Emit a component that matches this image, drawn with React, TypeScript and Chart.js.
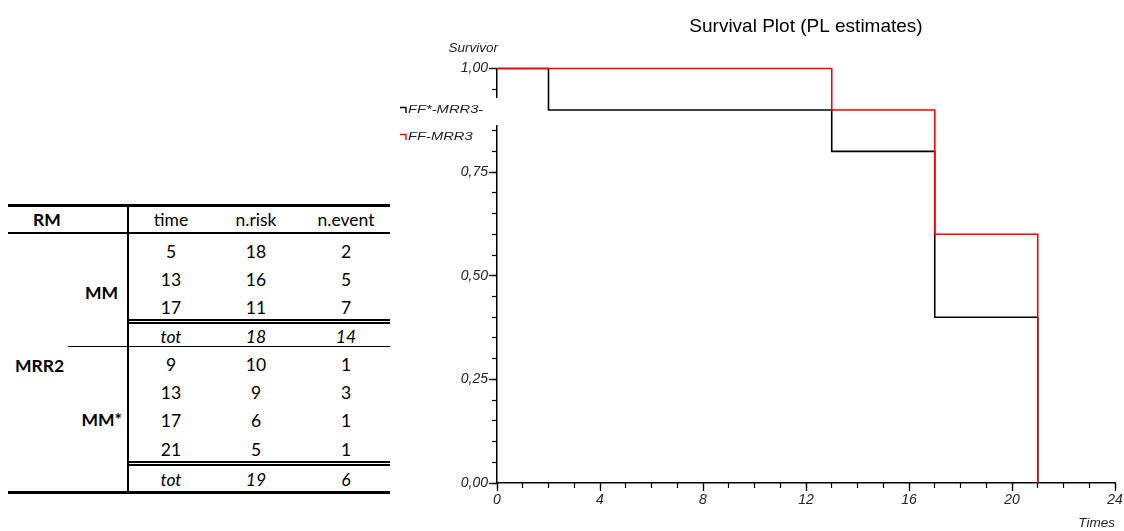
import React, { useEffect, useRef } from "react";
import { Chart, registerables } from "chart.js";

Chart.register(...registerables);

// ---------- chart data ----------
const seriesNames = ["FF*-MRR3-", "FF-MRR3"];
const seriesColors = ["#000000", "#ff0000"];
const timesBlack = [0, 2, 13, 17, 21];
const survBlack = [1, 0.9, 0.8, 0.4, 0];
const timesRed = [0, 13, 17, 21];
const survRed = [1, 0.9, 0.6, 0];
const xRange = [0, 24];
const xMajorStep = 4;
const xMinorStep = 1;
const yRange = [0, 1];
const yMajorStep = 0.25;
const yMinorStep = 0.05;
const chartTitle = "Survival Plot (PL estimates)";
const yAxisTitle = "Survivor";
const xAxisTitle = "Times";

// ---------- table data ----------
const tableHeader = ["RM", "time", "n.risk", "n.event"];
const outerGroup = "MRR2";
const groupNames = ["MM", "MM*"];
const mmRows = [
  [5, 18, 2],
  [13, 16, 5],
  [17, 11, 7],
];
const mmTot = ["tot", "18", "14"];
const mmStarRows = [
  [9, 10, 1],
  [13, 9, 3],
  [17, 6, 1],
  [21, 5, 1],
];
const mmStarTot = ["tot", "19", "6"];

const CANVAS_LEFT = 380;
const CANVAS_W = 744;
const CANVAS_H = 531;
const SANS = "'Liberation Sans', Arial, sans-serif";
const TABLE_FONT = "Lato, 'Open Sans', sans-serif";

const kmDecor = {
  id: "kmDecor",
  afterDraw(chart: any) {
    const { ctx, chartArea } = chart;
    const L = chartArea.left;
    const T = chartArea.top;
    ctx.save();
    // axis title "Survivor"
    ctx.fillStyle = "#222";
    ctx.font = `italic 13.5px ${SANS}`;
    ctx.textAlign = "right";
    ctx.textBaseline = "middle";
    ctx.fillText(yAxisTitle, L + 1, T - 20);
    // legend background box (hides part of the axis)
    ctx.fillStyle = "#ffffff";
    ctx.fillRect(L - 107, T + 29.5, 110, 27);
    const ys = [T + 41.5, T + 68.5];
    chart.data.datasets.forEach((ds: any, i: number) => {
      const y = ys[i];
      ctx.strokeStyle = ds.borderColor;
      ctx.lineWidth = 1.4;
      ctx.beginPath();
      ctx.moveTo(L - 97, y - 2.5);
      ctx.lineTo(L - 91, y - 2.5);
      ctx.lineTo(L - 91, y + 3);
      ctx.stroke();
      ctx.save();
      ctx.translate(L - 89, y);
      ctx.scale(1.28, 1);
      ctx.fillStyle = "#222";
      ctx.font = `italic 11.5px ${SANS}`;
      ctx.textAlign = "left";
      ctx.textBaseline = "middle";
      ctx.fillText(ds.label, 0, 0);
      ctx.restore();
    });
    ctx.restore();
  },
};

function SurvivalChart() {
  const ref = useRef<HTMLCanvasElement>(null);
  useEffect(() => {
    const canvas = ref.current;
    if (!canvas) return;
    const tickFont = { family: SANS, size: 14, style: "italic" as const };
    const fmtY = (v: any) => Number(v).toFixed(2).replace(".", ",");
    const chart = new Chart(canvas, {
      type: "line",
      data: {
        datasets: [
          {
            label: seriesNames[0],
            data: timesBlack.map((t, i) => ({ x: t, y: survBlack[i] })),
            borderColor: seriesColors[0],
            borderWidth: 1.6,
            stepped: true,
            pointRadius: 0,
            fill: false,
            clip: 4,
            order: 1,
          },
          {
            label: seriesNames[1],
            data: timesRed.map((t, i) => ({ x: t, y: survRed[i] })),
            borderColor: seriesColors[1],
            borderWidth: 1.6,
            stepped: true,
            pointRadius: 0,
            fill: false,
            clip: 4,
            order: 0,
          },
        ],
      },
      options: {
        animation: false,
        responsive: false,
        maintainAspectRatio: false,
        events: [],
        layout: { padding: { left: 0, right: 9, top: 0, bottom: 0 } },
        plugins: {
          legend: { display: false },
          tooltip: { enabled: false },
          title: {
            display: true,
            text: chartTitle,
            fullSize: false,
            color: "#000",
            font: { family: SANS, size: 19, weight: "normal" },
            padding: { top: 15, bottom: 30.7 },
          },
        },
        scales: {
          x: {
            type: "linear",
            position: "bottom",
            weight: 10,
            min: xRange[0],
            max: xRange[1],
            border: { display: true, color: "#000", width: 1.5 },
            grid: { drawOnChartArea: false, drawTicks: true, tickLength: 8, color: "#000", tickWidth: 1.3 },
            ticks: { stepSize: xMajorStep, padding: 1, color: "#222", font: tickFont, maxRotation: 0, autoSkip: false },
            title: { display: true, text: xAxisTitle, align: "end", color: "#222", font: { ...tickFont, size: 13.5 }, padding: 0 },
            afterFit: (s: any) => {
              s.height = 48;
            },
          },
          x2: {
            type: "linear",
            position: "bottom",
            weight: 0,
            min: xRange[0],
            max: xRange[1],
            border: { display: false },
            grid: { drawOnChartArea: false, drawTicks: true, tickLength: 5, color: "#000", tickWidth: 1.2 },
            ticks: { stepSize: xMinorStep, display: false, autoSkip: false },
            afterFit: (s: any) => {
              s.height = 0;
            },
          },
          y: {
            type: "linear",
            position: "left",
            weight: 10,
            min: yRange[0],
            max: yRange[1],
            border: { display: true, color: "#000", width: 1.5 },
            grid: { drawOnChartArea: false, drawTicks: true, tickLength: 8, color: "#000", tickWidth: 1.3 },
            ticks: { stepSize: yMajorStep, padding: 1, color: "#222", font: tickFont, callback: fmtY, autoSkip: false },
            afterFit: (s: any) => {
              s.width = 117;
            },
          },
          y2: {
            type: "linear",
            position: "left",
            weight: 0,
            min: yRange[0],
            max: yRange[1],
            border: { display: false },
            grid: { drawOnChartArea: false, drawTicks: true, tickLength: 5, color: "#000", tickWidth: 1.2 },
            ticks: { stepSize: yMinorStep, display: false, autoSkip: false },
            afterFit: (s: any) => {
              s.width = 0;
            },
          },
        },
      } as any,
      plugins: [kmDecor],
    });
    return () => chart.destroy();
  }, []);
  return (
    <canvas
      ref={ref}
      width={CANVAS_W}
      height={CANVAS_H}
      style={{ position: "absolute", left: CANVAS_LEFT, top: 0, width: CANVAS_W, height: CANVAS_H }}
    />
  );
}

function HLine({ x1, x2, y, h }: { x1: number; x2: number; y: number; h: number }) {
  return <div style={{ position: "absolute", left: x1, top: y, width: x2 - x1, height: h, background: "#000" }} />;
}

function Cell({
  cx,
  cy,
  text,
  bold,
  italic,
  align,
}: {
  cx: number;
  cy: number;
  text: string | number;
  bold?: boolean;
  italic?: boolean;
  align?: "left" | "right" | "center";
}) {
  const w = 120;
  const a = align || "center";
  const left = a === "center" ? cx - w / 2 : a === "right" ? cx - w : cx;
  return (
    <div
      style={{
        position: "absolute",
        left,
        width: w,
        top: cy - 12,
        height: 24,
        lineHeight: "24px",
        textAlign: a,
        fontFamily: TABLE_FONT,
        fontSize: 17.5,
        fontWeight: bold ? 700 : 400,
        fontStyle: italic ? "italic" : "normal",
        color: "#000",
        whiteSpace: "nowrap",
      }}
    >
      {text}
    </div>
  );
}

function RiskTable() {
  const colX = [47, 171, 256, 346];
  const pitch = 28.2;
  const g1y = mmRows.map((_, i) => 252 + pitch * i);
  const g2y = mmStarRows.map((_, i) => 365 + pitch * i);
  const els: any[] = [];
  tableHeader.forEach((h, i) =>
    els.push(<Cell key={"h" + i} cx={colX[i]} cy={220} text={h} bold={i === 0} />)
  );
  mmRows.forEach((r, ri) =>
    r.forEach((v, ci) => els.push(<Cell key={`a${ri}-${ci}`} cx={colX[ci + 1]} cy={g1y[ri]} text={v} />))
  );
  mmTot.forEach((v, ci) => els.push(<Cell key={`at${ci}`} cx={colX[ci + 1]} cy={337} text={v} italic />));
  mmStarRows.forEach((r, ri) =>
    r.forEach((v, ci) => els.push(<Cell key={`b${ri}-${ci}`} cx={colX[ci + 1]} cy={g2y[ri]} text={v} />))
  );
  mmStarTot.forEach((v, ci) => els.push(<Cell key={`bt${ci}`} cx={colX[ci + 1]} cy={480} text={v} italic />));
  return (
    <>
      <HLine x1={8} x2={390} y={203.5} h={3} />
      <HLine x1={8} x2={390} y={231.5} h={2.5} />
      <HLine x1={128} x2={390} y={319.3} h={1.4} />
      <HLine x1={128} x2={390} y={322.2} h={1.4} />
      <HLine x1={68} x2={390} y={346.3} h={1.2} />
      <HLine x1={128} x2={390} y={461.2} h={1.4} />
      <HLine x1={128} x2={390} y={464.2} h={1.4} />
      <HLine x1={8} x2={390} y={491} h={3} />
      <div style={{ position: "absolute", left: 126.8, top: 203.5, width: 2.4, height: 290.5, background: "#000" }} />
      {els}
      <Cell cx={118} cy={293} text={groupNames[0]} bold align="right" />
      <Cell cx={15} cy={366} text={outerGroup} bold align="left" />
      <Cell cx={122} cy={420} text={groupNames[1]} bold align="right" />
    </>
  );
}

export default function App() {
  return (
    <div
      style={{
        position: "absolute",
        left: 0,
        top: 0,
        width: 1124,
        height: 531,
        overflow: "hidden",
        background: "#fff",
      }}
    >
      <RiskTable />
      <SurvivalChart />
    </div>
  );
}
